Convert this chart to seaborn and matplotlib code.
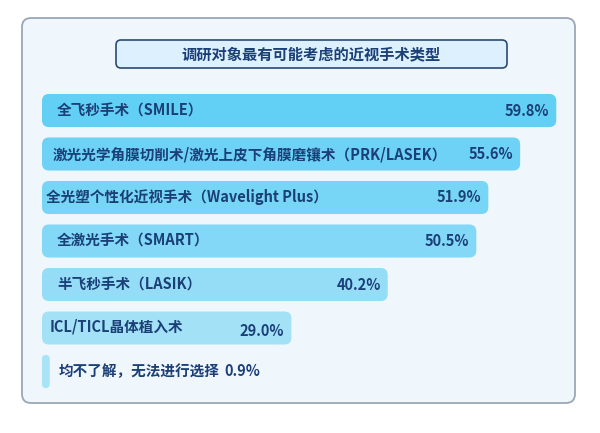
import matplotlib
matplotlib.use("Agg")
import matplotlib.pyplot as plt
import seaborn as sns
import pandas as pd
from matplotlib.patches import FancyBboxPatch

categories = [
    "全飞秒手术（SMILE）",
    "激光光学角膜切削术/激光上皮下角膜磨镶术（PRK/LASEK）",
    "全光塑个性化近视手术（Wavelight Plus）",
    "全激光手术（SMART）",
    "半飞秒手术（LASIK）",
    "ICL/TICL晶体植入术",
    "均不了解，无法进行选择",
]
values = [59.8, 55.6, 51.9, 50.5, 40.2, 29.0, 0.9]
value_labels = ["59.8%", "55.6%", "51.9%", "50.5%", "40.2%", "29.0%", "0.9%"]
title = "调研对象最有可能考虑的近视手术类型"

bar_colors = ["#62cff4", "#6dd2f5", "#77d5f5", "#82d8f6", "#95ddf6", "#a3e1f7", "#a8e3f7"]
text_color = "#1b3f77"

sns.set_theme(style="white")
plt.rcParams["font.family"] = ["Noto Sans CJK SC", "DejaVu Sans"]

W, H = 600, 433
fig = plt.figure(figsize=(W / 100, H / 100), dpi=100)
fig.patch.set_facecolor("white")

# panel background
panel = FancyBboxPatch((22, H - 403), 553, 385, boxstyle="round,pad=0,rounding_size=9",
                       transform=None, facecolor="#eff7fd", edgecolor="#9ba7b6",
                       linewidth=1.3, zorder=0)
fig.patches.append(panel)

# title box
tbox = FancyBboxPatch((116, H - 68), 391, 28, boxstyle="round,pad=0,rounding_size=5",
                      transform=None, facecolor="#dcf0fd", edgecolor="#2c4a73",
                      linewidth=1.2, zorder=1)
fig.patches.append(tbox)
fig.text(311.5 / W, 1 - 54 / H, title, ha="center", va="center", fontsize=11,
         fontweight="bold", color=text_color)

df = pd.DataFrame({"cat": categories, "val": values})

ax_left, ax_w = 42, 516
top_px, bot_px = 88.75, 393.25
ax = fig.add_axes([ax_left / W, (H - bot_px) / H, ax_w / W, (bot_px - top_px) / H])
ax.set_facecolor("none")
sns.barplot(data=df, x="val", y="cat", hue="cat", palette=bar_colors, legend=False,
            orient="h", width=0.76, ax=ax, saturation=1)
ax.set_xlim(0, 60)
ax.set_ylim(6.5, -0.5)
ax.axis("off")

fig.canvas.draw()
label_pads = [15, 11, 4, 15, 15, 8, 17]
for i, p in enumerate(list(ax.patches)):
    x0, y0 = p.get_x(), p.get_y()
    w, h = p.get_width(), p.get_height()
    (dx0, dy0) = ax.transData.transform((x0, y0 + h))
    (dx1, dy1) = ax.transData.transform((x0 + w, y0))
    pw, ph = dx1 - dx0, dy1 - dy0
    r = min(7, pw / 2)
    rp = FancyBboxPatch((dx0, dy0), pw, ph, boxstyle=f"round,pad=0,rounding_size={r}",
                        transform=None, facecolor=p.get_facecolor(), edgecolor="none",
                        zorder=2)
    fig.patches.append(rp)
    p.set_visible(False)
    yc = (dy0 + dy1) / 2
    if values[i] > 5:
        loff = 1 if i == 5 else 0
        fig.text((dx0 + label_pads[i]) / W, (yc + loff) / H, categories[i], ha="left",
                 va="center", fontsize=10.5, fontweight="bold", color=text_color, zorder=3)
        voff = -3 if i == 5 else 0
        fig.text((dx1 - 7) / W, (yc + voff) / H, value_labels[i], ha="right", va="center",
                 fontsize=10.5, fontweight="bold", color=text_color, zorder=3)
    else:
        t = fig.text((dx1 + 9) / W, yc / H, categories[i], ha="left", va="center",
                     fontsize=10.5, fontweight="bold", color=text_color, zorder=3)
        bb = t.get_window_extent(renderer=fig.canvas.get_renderer())
        fig.text((bb.x1 + 5) / W, yc / H, value_labels[i], ha="left", va="center",
                 fontsize=10.5, fontweight="bold", color=text_color, zorder=3)

fig.savefig("out.png", dpi=100)
